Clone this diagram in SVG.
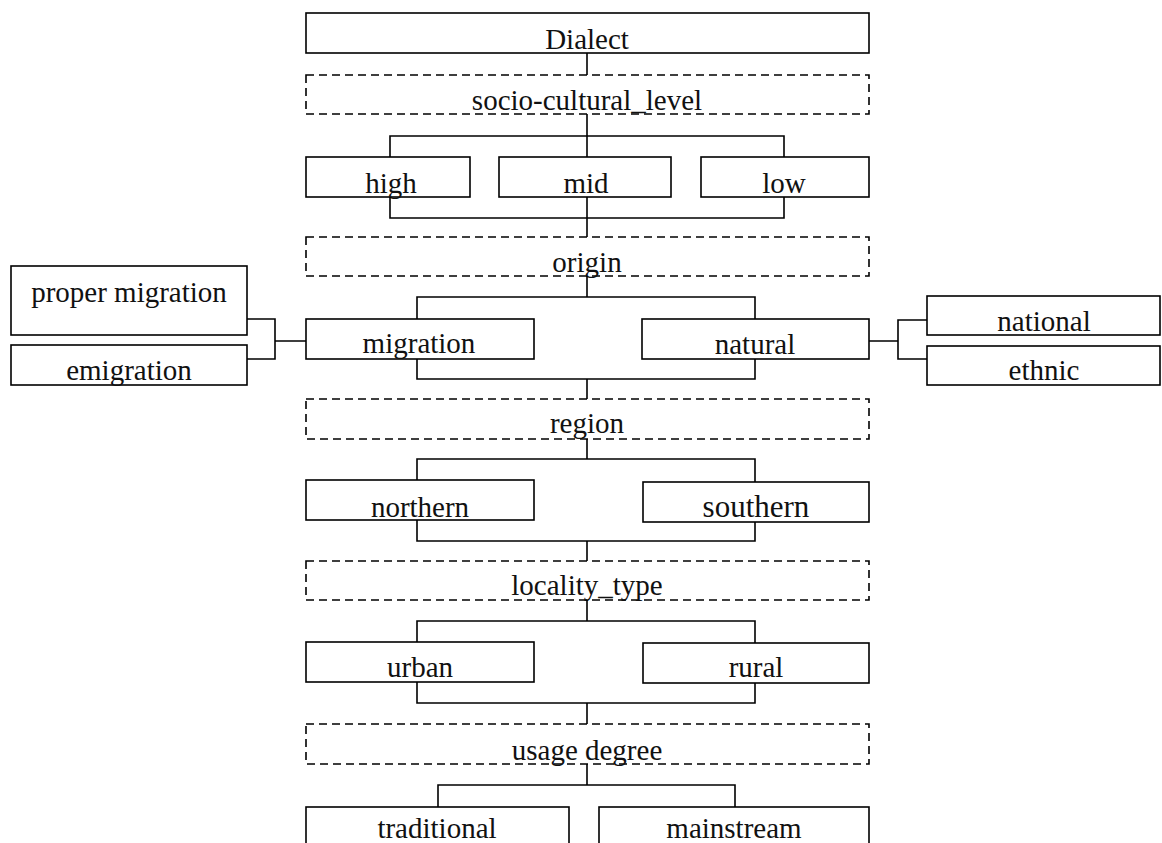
<svg xmlns="http://www.w3.org/2000/svg" width="1162" height="843" viewBox="0 0 1162 843">
  <style>
    .box { fill: #ffffff; stroke: #000000; stroke-width: 1.6; }
    .dash { fill: #ffffff; stroke: #000000; stroke-width: 1.6; stroke-dasharray: 8 5; }
    .wire { fill: none; stroke: #000000; stroke-width: 1.6; }
    text { font-family: "Liberation Serif", "Times New Roman", serif; font-size: 29px; fill: #111111; text-anchor: middle; }
    .alt { font-size: 31px; }
  </style>

  <rect width="1162" height="843" fill="#ffffff"/>

  <!-- level 0 -->
  <g id="dialect">
    <rect class="box" x="306" y="13" width="563" height="40"/>
    <text x="587" y="49">Dialect</text>
  </g>

  <!-- socio-cultural level -->
  <g id="socio-cultural-level">
    <rect class="dash" x="306" y="75" width="563" height="39"/>
    <text x="587" y="110">socio-cultural_level</text>
  </g>
  <g id="high">
    <rect class="box" x="306" y="157" width="164" height="40"/>
    <text x="391" y="193">high</text>
  </g>
  <g id="mid">
    <rect class="box" x="499" y="157" width="172" height="40"/>
    <text x="586" y="193">mid</text>
  </g>
  <g id="low">
    <rect class="box" x="701" y="157" width="168" height="40"/>
    <text x="784" y="193">low</text>
  </g>

  <!-- origin -->
  <g id="origin">
    <rect class="dash" x="306" y="237" width="563" height="39"/>
    <text x="587" y="272">origin</text>
  </g>
  <g id="migration">
    <rect class="box" x="306" y="319" width="228" height="40"/>
    <text x="419" y="353">migration</text>
  </g>
  <g id="natural">
    <rect class="box" x="642" y="319" width="227" height="40"/>
    <text x="755" y="354">natural</text>
  </g>
  <g id="proper-migration">
    <rect class="box" x="11" y="266" width="236" height="69"/>
    <text x="129" y="302">proper migration</text>
  </g>
  <g id="emigration">
    <rect class="box" x="11" y="345" width="236" height="40"/>
    <text x="129" y="380">emigration</text>
  </g>
  <g id="national">
    <rect class="box" x="927" y="296" width="233" height="39"/>
    <text x="1044" y="331">national</text>
  </g>
  <g id="ethnic">
    <rect class="box" x="927" y="346" width="233" height="39"/>
    <text x="1044" y="380">ethnic</text>
  </g>

  <!-- region -->
  <g id="region">
    <rect class="dash" x="306" y="399" width="563" height="40"/>
    <text x="587" y="433">region</text>
  </g>
  <g id="northern">
    <rect class="box" x="306" y="480" width="228" height="40"/>
    <text x="420" y="517">northern</text>
  </g>
  <g id="southern">
    <rect class="box" x="643" y="482" width="226" height="40"/>
    <text class="alt" x="756" y="517">southern</text>
  </g>

  <!-- locality type -->
  <g id="locality-type">
    <rect class="dash" x="306" y="561" width="563" height="39"/>
    <text x="587" y="595">locality_type</text>
  </g>
  <g id="urban">
    <rect class="box" x="306" y="642" width="228" height="40"/>
    <text x="420" y="677">urban</text>
  </g>
  <g id="rural">
    <rect class="box" x="643" y="643" width="226" height="40"/>
    <text x="756" y="677">rural</text>
  </g>

  <!-- usage degree -->
  <g id="usage-degree">
    <rect class="dash" x="306" y="724" width="563" height="40"/>
    <text x="587" y="760">usage degree</text>
  </g>
  <g id="traditional">
    <rect class="box" x="306" y="807" width="263" height="60"/>
    <text x="437" y="838">traditional</text>
  </g>
  <g id="mainstream">
    <rect class="box" x="599" y="807" width="270" height="60"/>
    <text x="734" y="838">mainstream</text>
  </g>

  <!-- tree connectors -->
  <g id="connectors" class="wire">
    <path class="wire" d="M587,53 V75"/>
    <path class="wire" d="M587,114 V157 M390,157 V136 H784 V157"/>
    <path class="wire" d="M390,197 V218 H784 V197 M587,197 V237"/>
    <path class="wire" d="M587,276 V297 M417,319 V297 H755 V319"/>
    <path class="wire" d="M417,359 V379 H755 V359 M587,379 V399"/>
    <path class="wire" d="M247,319 H275 V359 H247 M275,341 H306"/>
    <path class="wire" d="M869,341 H898 M927,320 H898 V359 H927"/>
    <path class="wire" d="M587,439 V459 M417,480 V459 H755 V482"/>
    <path class="wire" d="M417,520 V541 H755 V522 M587,541 V561"/>
    <path class="wire" d="M587,600 V621 M417,642 V621 H755 V643"/>
    <path class="wire" d="M417,682 V703 H755 V683 M587,703 V724"/>
    <path class="wire" d="M587,764 V785 M438,807 V785 H735 V807"/>
  </g>
</svg>
